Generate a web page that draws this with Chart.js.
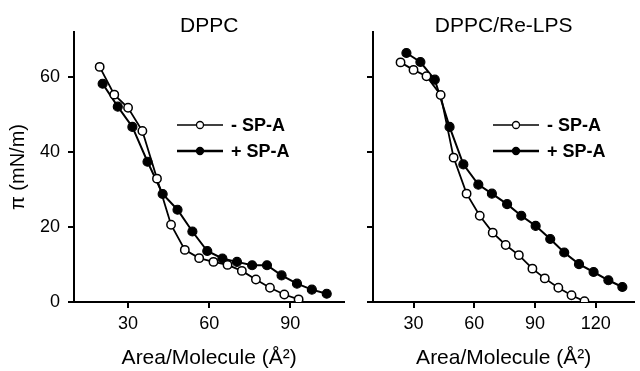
<!DOCTYPE html>
<html>
<head>
<meta charset="utf-8">
<script src="https://cdn.jsdelivr.net/npm/chart.js@4.4.0/dist/chart.umd.min.js"></script>
<style>
  html, body { margin: 0; padding: 0; background: #fff; }
  #wrap { position: relative; width: 640px; height: 371px; }
  canvas { position: absolute; top: 0; }
</style>
</head>
<body>
<div id="wrap">
  <canvas id="dppc" width="350" height="371" style="left:0px"></canvas>
  <canvas id="relps" width="290" height="371" style="left:350px"></canvas>
</div>
<script>
// DPPC panel
var dppcMinusX = [19.5, 24.9, 30.0, 35.3, 40.7, 45.9, 51.0, 56.3, 61.6, 66.8, 72.1, 77.3, 82.5, 87.8, 93.1];
var dppcMinusY = [62.7, 55.3, 51.8, 45.6, 32.9, 20.6, 13.9, 11.7, 10.7, 9.9, 8.3, 6.0, 3.8, 2.0, 0.7];
var dppcPlusX = [20.6, 26.2, 31.6, 37.2, 42.8, 48.3, 53.8, 59.3, 64.9, 70.3, 75.9, 81.4, 86.8, 92.5, 98.0, 103.5];
var dppcPlusY = [58.2, 52.1, 46.7, 37.4, 28.8, 24.6, 18.8, 13.6, 11.6, 10.7, 9.8, 9.8, 7.1, 4.9, 3.3, 2.2];

// DPPC/Re-LPS panel
var relpsMinusX = [23.6, 30.0, 36.4, 43.4, 49.8, 56.2, 62.7, 69.1, 75.5, 82.0, 88.7, 94.8, 101.5, 108.0, 114.4];
var relpsMinusY = [63.9, 61.9, 60.2, 55.2, 38.5, 28.9, 23.0, 18.5, 15.2, 12.5, 8.9, 6.3, 3.8, 1.8, 0.2];
var relpsPlusX = [26.5, 33.4, 40.5, 47.8, 54.6, 62.0, 68.7, 76.2, 83.2, 90.3, 97.5, 104.4, 111.7, 118.9, 126.2, 133.1];
var relpsPlusY = [66.4, 64.0, 59.3, 46.7, 36.7, 31.3, 28.9, 26.1, 23.0, 20.3, 16.8, 13.2, 10.1, 8.0, 5.8, 4.0];

var seriesLabels = ["- SP-A", "+ SP-A"];
var panelTitles = ["DPPC", "DPPC/Re-LPS"];
var xTitle = "Area/Molecule (\u00C5\u00B2)";
var yTitle = "\u03C0 (mN/m)";

var FONT = "'Liberation Sans', Arial, Helvetica, sans-serif";

function pts(xs, ys) {
  return xs.map(function (x, i) { return { x: x, y: ys[i] }; });
}

// title above the plot area, centred on it
var panelTitle = {
  id: "panelTitle",
  afterDraw: function (chart, args, opts) {
    var ctx = chart.ctx, a = chart.chartArea;
    ctx.save();
    ctx.font = "21px " + FONT;
    ctx.fillStyle = "#000";
    ctx.textAlign = "center";
    ctx.textBaseline = "middle";
    ctx.fillText(opts.text, (a.left + a.right) / 2, opts.y);
    ctx.restore();
  },
};

// legend drawn inside the plot, styled from the datasets
var inlineLegend = {
  id: "inlineLegend",
  afterDraw: function (chart, args, opts) {
    var ctx = chart.ctx;
    ctx.save();
    chart.data.datasets.forEach(function (ds, i) {
      var y = opts.y + i * opts.gap;
      ctx.beginPath();
      ctx.strokeStyle = "#000";
      ctx.lineWidth = opts.lineWidths[i];
      ctx.moveTo(opts.x, y);
      ctx.lineTo(opts.x + opts.len, y);
      ctx.stroke();
      ctx.beginPath();
      ctx.arc(opts.x + opts.len / 2, y, 3.5, 0, Math.PI * 2);
      ctx.fillStyle = ds.pointBackgroundColor;
      ctx.fill();
      ctx.lineWidth = 1.3;
      ctx.stroke();
      ctx.font = "bold 18px " + FONT;
      ctx.fillStyle = "#000";
      ctx.textAlign = "left";
      ctx.textBaseline = "middle";
      ctx.fillText(ds.label, opts.x + opts.len + 8, y + 1);
    });
    ctx.restore();
  },
};

function makeDatasets(minus, plus) {
  return [
    {
      label: seriesLabels[0],
      data: minus,
      borderColor: "#000",
      borderWidth: 1.8,
      pointRadius: 4.2,
      pointBorderWidth: 1.5,
      pointBorderColor: "#000",
      pointBackgroundColor: "#fff",
      fill: false,
      order: 0,
    },
    {
      label: seriesLabels[1],
      data: plus,
      borderColor: "#000",
      borderWidth: 2,
      pointRadius: 4.5,
      pointBorderWidth: 1.2,
      pointBorderColor: "#000",
      pointBackgroundColor: "#000",
      fill: false,
      order: 1,
    },
  ];
}

function axisBase() {
  return {
    type: "linear",
    border: { display: true, color: "#000", width: 2 },
    grid: {
      drawOnChartArea: false,
      drawTicks: true,
      tickLength: 6,
      color: "#000",
      lineWidth: 2,
    },
  };
}

function makeChart(id, datasets, xMax, showYLabels, yWidth, padRight, titleText, legendX) {
  var x = axisBase();
  x.min = 10;
  x.max = xMax;
  x.ticks = { stepSize: 30, includeBounds: false, color: "#000", padding: 5, font: { family: FONT, size: 18 } };
  x.title = { display: true, text: xTitle, color: "#000", font: { family: FONT, size: 21, lineHeight: 1.2 }, padding: { top: 0, bottom: 0 } };
  x.afterFit = function (s) { s.height = 69; };

  var y = axisBase();
  y.min = 0;
  y.max = 72;
  y.ticks = {
    stepSize: 20,
    includeBounds: false,
    color: "#000",
    padding: 8,
    font: { family: FONT, size: 18 },
    callback: function (v) { return showYLabels ? v : ""; },
  };
  y.title = { display: showYLabels, text: yTitle, color: "#000", font: { family: FONT, size: 20, lineHeight: 1.2 }, padding: { top: 6, bottom: 0 } };
  y.afterFit = function (s) { s.width = yWidth; };

  return new Chart(document.getElementById(id).getContext("2d"), {
    type: "line",
    data: { datasets: datasets },
    plugins: [panelTitle, inlineLegend],
    options: {
      responsive: false,
      animation: false,
      devicePixelRatio: 1,
      layout: { padding: { top: 32, right: padRight, left: 0, bottom: 0 } },
      scales: { x: x, y: y },
      plugins: {
        legend: { display: false },
        tooltip: { enabled: false },
        panelTitle: { text: titleText, y: 26 },
        inlineLegend: { x: legendX, y: 125, gap: 26, len: 46, lineWidths: [1.5, 2.5] },
      },
    },
  });
}

makeChart("dppc",
  makeDatasets(pts(dppcMinusX, dppcMinusY), pts(dppcPlusX, dppcPlusY)),
  110, true, 74, 5, panelTitles[0], 177);

makeChart("relps",
  makeDatasets(pts(relpsMinusX, relpsMinusY), pts(relpsPlusX, relpsPlusY)),
  139, false, 23, 0, panelTitles[1], 493 - 350);
</script>
</body>
</html>
